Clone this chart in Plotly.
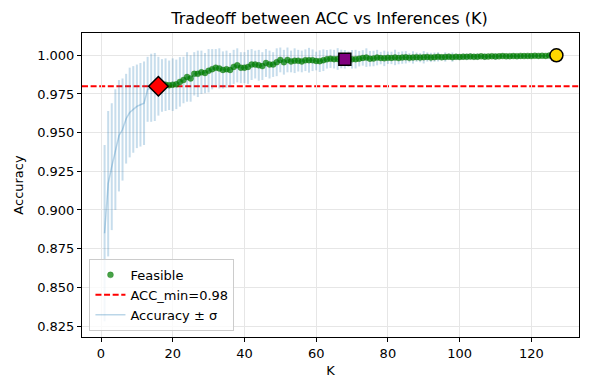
import plotly.graph_objects as go

# Accuracy (mean and std) for each number of inferences K
k_values = list(range(1, 128))
acc_mean = [
    0.885, 0.917, 0.928, 0.939, 0.948, 0.952, 0.959, 0.963, 0.965, 0.967,
    0.968, 0.969, 0.978, 0.979, 0.9795, 0.980, 0.9805, 0.981, 0.9806, 0.981,
    0.9812, 0.9828, 0.984, 0.986, 0.985, 0.988, 0.988, 0.989, 0.9885, 0.990,
    0.991, 0.992, 0.9915, 0.9905, 0.991, 0.9905, 0.9925, 0.9935, 0.992, 0.992,
    0.9925, 0.994, 0.994, 0.9935, 0.993, 0.995, 0.994, 0.994, 0.9955, 0.997,
    0.9955, 0.997, 0.996, 0.9965, 0.9965, 0.996, 0.9968, 0.9968, 0.9968, 0.9963,
    0.9962, 0.9968, 0.9974, 0.9978, 0.9975, 0.9976, 0.9976, 0.9974, 0.9975, 0.9974,
    0.9975, 0.9978, 0.9983, 0.9985, 0.9978, 0.9979, 0.9985, 0.9982, 0.9980, 0.9984,
    0.9983, 0.9986, 0.9982, 0.9985, 0.9987, 0.9984, 0.9986, 0.9988, 0.9985, 0.9987,
    0.9989, 0.9986, 0.9988, 0.9990, 0.9987, 0.9989, 0.9991, 0.9988, 0.9990, 0.9989,
    0.9991, 0.9990, 0.9992, 0.9990, 0.9991, 0.9993, 0.9991, 0.9992, 0.9994, 0.9992,
    0.9993, 0.9995, 0.9993, 0.9994, 0.9995, 0.9994, 0.9996, 0.9995, 0.9996, 0.9995,
    0.9997, 0.9996, 0.9997, 0.9996, 0.9998, 0.9997, 1.0000,
]
acc_std = [
    0.057, 0.047, 0.041, 0.039, 0.036, 0.033, 0.029, 0.029, 0.028, 0.027,
    0.027, 0.027, 0.021, 0.022, 0.022, 0.019, 0.017, 0.017, 0.016, 0.017,
    0.016, 0.016, 0.015, 0.016, 0.015, 0.014, 0.015, 0.014, 0.013, 0.014,
    0.013, 0.012, 0.013, 0.012, 0.012, 0.011, 0.011, 0.011, 0.010, 0.010,
    0.011, 0.010, 0.009, 0.010, 0.009, 0.009, 0.009, 0.008, 0.009, 0.008,
    0.008, 0.008, 0.007, 0.008, 0.007, 0.007, 0.007, 0.008, 0.007, 0.006,
    0.007, 0.007, 0.006, 0.006, 0.006, 0.007, 0.006, 0.006, 0.005, 0.006,
    0.006, 0.005, 0.005, 0.006, 0.005, 0.005, 0.005, 0.004, 0.005, 0.004,
    0.004, 0.005, 0.004, 0.004, 0.004, 0.003, 0.004, 0.003, 0.003, 0.004,
    0.003, 0.003, 0.003, 0.003, 0.002, 0.003, 0.002, 0.003, 0.002, 0.002,
    0.002, 0.002, 0.002, 0.002, 0.002, 0.001, 0.002, 0.001, 0.001, 0.002,
    0.001, 0.001, 0.001, 0.001, 0.001, 0.001, 0.001, 0.001, 0.001, 0.001,
    0.001, 0.0005, 0.0005, 0.0005, 0.0005, 0.0005, 0.0,
]
ACC_MIN = 0.98
K_MIN_FEASIBLE = 16   # red diamond
K_KNEE = 68           # purple square
K_BEST = 127          # gold circle

x_ticks = [0, 20, 40, 60, 80, 100, 120]
y_ticks = [0.825, 0.850, 0.875, 0.900, 0.925, 0.950, 0.975, 1.000]

feas_k = [k for k, a in zip(k_values, acc_mean) if a >= ACC_MIN]
feas_a = [a for a in acc_mean if a >= ACC_MIN]

def acc_at(k):
    return acc_mean[k_values.index(k)]

font = "DejaVu Sans"
fig = go.Figure()

fig.add_trace(go.Scatter(
    x=k_values, y=acc_mean, mode="lines", name="Accuracy ± σ",
    line=dict(color="rgba(31,119,180,0.3)", width=1.5),
    error_y=dict(type="data", array=acc_std, visible=True,
                 color="rgba(31,119,180,0.25)", thickness=2, width=0),
    legendrank=3,
))
fig.add_trace(go.Scatter(
    x=feas_k, y=feas_a, mode="markers", name="Feasible",
    marker=dict(color="rgba(0,128,0,0.72)", size=6,
                line=dict(color="rgba(0,100,0,0.5)", width=0.5)),
    legendrank=1,
))
fig.add_shape(type="line", xref="x domain", x0=0, x1=1, yref="y",
              y0=ACC_MIN, y1=ACC_MIN, layer="below",
              line=dict(color="red", width=2, dash="6px,2.6px"),
              showlegend=True, name=f"ACC_min={ACC_MIN}", legendrank=2)

for k, sym, col, size in [(K_MIN_FEASIBLE, "diamond", "red", 15),
                          (K_KNEE, "square", "purple", 12),
                          (K_BEST, "circle", "gold", 13)]:
    fig.add_trace(go.Scatter(
        x=[k], y=[acc_at(k)], mode="markers", showlegend=False,
        marker=dict(symbol=sym, color=col, size=size,
                    line=dict(color="black", width=1.5)),
    ))

axis_common = dict(
    showline=True, linecolor="black", linewidth=1, mirror=True,
    ticks="outside", ticklen=4, tickcolor="black",
    showgrid=True, gridcolor="#e6e6e6", gridwidth=0.8, zeroline=False,
    tickfont=dict(family=font, size=13, color="black"),
)

# page body adds an 8px margin, so the figure is 8px smaller each way
fig.update_layout(
    width=582, height=382,
    margin=dict(l=71, r=10, t=25, b=53),
    plot_bgcolor="white", paper_bgcolor="white",
    title=dict(text="Tradeoff between ACC vs Inferences (K)",
               font=dict(family=font, size=16, color="black"),
               x=(71 + 250.5) / 582, xanchor="center",
               y=1 - 10 / 382, yanchor="middle", yref="container"),
    xaxis=dict(axis_common, range=[-5.3, 133.3], tickvals=x_ticks,
               title=dict(text="K", font=dict(family=font, size=13, color="black"),
                          standoff=6)),
    yaxis=dict(axis_common, range=[0.8179, 1.0144], tickvals=y_ticks,
               tickformat=".3f",
               title=dict(text="Accuracy", font=dict(family=font, size=13, color="black"),
                          standoff=10)),
    legend=dict(x=0.015, y=0.02, xanchor="left", yanchor="bottom",
                bgcolor="rgba(255,255,255,0.8)", bordercolor="#cccccc",
                borderwidth=1, font=dict(family=font, size=13, color="black"),
                itemwidth=30, tracegroupgap=0),
    showlegend=True,
)

fig.write_html("out.html")
